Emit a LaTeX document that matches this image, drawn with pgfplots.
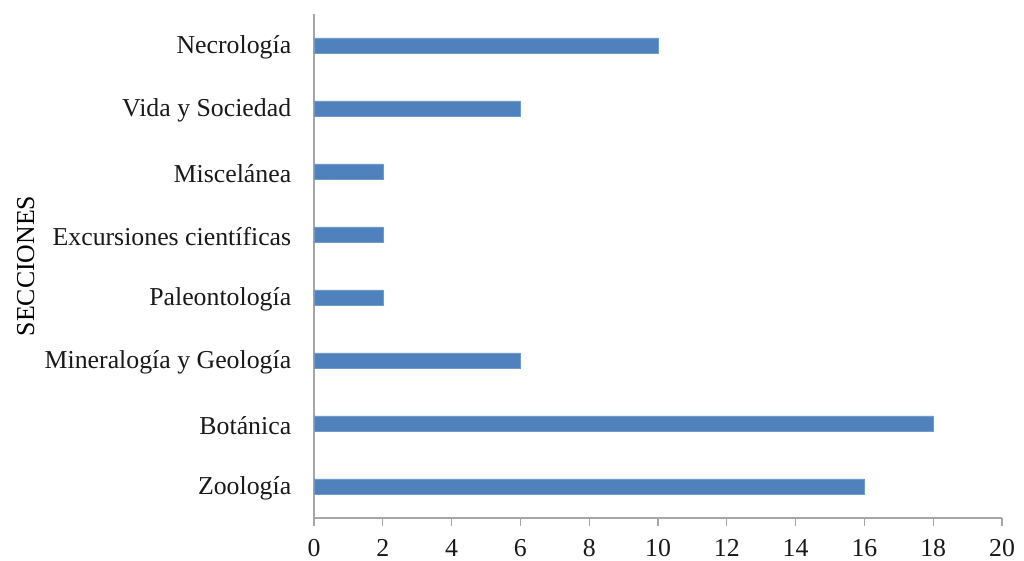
\documentclass[border=0pt]{standalone}
\usepackage{fontspec}
\setmainfont{Liberation Serif}
\usepackage{pgfplots}
\pgfplotsset{compat=1.18}
\definecolor{barblue}{HTML}{4F81BD}
\definecolor{axisgray}{HTML}{A6A6A6}
\begin{document}
\fontsize{25.8}{30}\selectfont
\begin{tikzpicture}
\path[use as bounding box] (-314pt,-43pt) rectangle (710pt,504pt+14pt);
\begin{axis}[
  at={(0,0)}, anchor=south west,
  scale only axis,
  width=688pt, height=504pt,
  xbar, bar width=15pt, bar shift=0pt,
  xmin=0, xmax=20,
  ymin=-0.5, ymax=7.5,
  xtick={0,2,...,20},
  ytick={0,...,7},
  yticklabels={Zoología, Botánica, Mineralogía y Geología, Paleontología,
    Excursiones científicas, Miscelánea, Vida y Sociedad, Necrología},
  axis lines*=left,
  axis line style={axisgray, line width=1.2pt, -},
  tick align=outside,
  major tick length=8pt,
  xtick style={axisgray, line width=1.2pt},
  ytick style={draw=none},
  /pgf/number format/assume math mode=true,
  ticklabel style={font=\fontsize{25.8}{30}\selectfont, text=black!90},
  xticklabel style={yshift=-5pt},
  yticklabel style={xshift=-6pt, yshift=-2pt},
  ylabel={SECCIONES},
  ylabel style={font=\fontsize{25.8}{30}\selectfont, text=black!90},
  every axis y label/.style={at={(ticklabel cs:0.5)}, rotate=90, anchor=south, yshift=-7pt},
]
\addplot[fill=barblue, draw=barblue!80!white] coordinates {
  (16,0) (18,1) (6,2) (2,3) (2,4) (2,5) (6,6) (10,7)
};
\end{axis}
\end{tikzpicture}
\end{document}
